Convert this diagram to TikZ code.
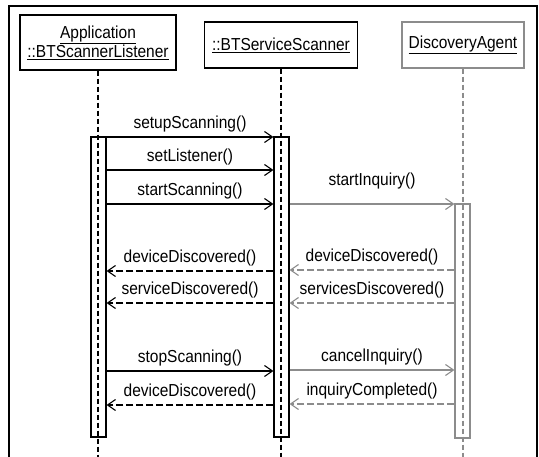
\documentclass[tikz,border=0pt]{standalone}
\usepackage{fontspec}
\usepackage{graphicx}
\setmainfont{Liberation Sans}
\usetikzlibrary{arrows.meta}
\definecolor{ln}{gray}{0.55}
\newcommand{\tallt}[1]{\scalebox{1}[1.12]{#1}}
\begin{document}
\begin{tikzpicture}[x=1pt,y=-1pt,
  obj/.style={draw, line width=1.2pt, inner sep=0pt, align=center, font=\fontsize{15.5}{20}\selectfont},
  actbar/.style={draw, line width=1.1pt, minimum width=15pt, inner sep=0pt},
  life/.style={line width=1.2pt, dash pattern=on 5pt off 3pt},
  call/.style={-{Straight Barb[length=8pt,width=11pt]}, line width=1.1pt},
  ret/.style={call, dash pattern=on 7pt off 3pt},
  lbl/.style={font=\fontsize{15.5}{18}\selectfont, inner sep=0pt, anchor=south, yshift=4pt}]
\useasboundingbox (0,0) rectangle (539,457);
% frame
\draw[line width=1.2pt] (9,457) -- (9,6) -- (537,6) -- (537,457);
% objects
\node[obj, minimum width=156pt, minimum height=55pt] (o1) at (98,42.5)
  {\tallt{\underline{Application}}\\[-1pt]\tallt{\underline{::BTScannerListener}}};
\node[obj, minimum width=153pt, minimum height=46pt] (o2) at (281,45)
  {\tallt{\underline{::BTServiceScanner}}};
\node[obj, draw=ln, minimum width=122pt, minimum height=46pt] (o3) at (463,45)
  {\tallt{\underline{DiscoveryAgent}}};
% lifelines
\coordinate (e1) at (98,457);
\coordinate (e2) at (281,457);
\coordinate (e3) at (463,457);
\draw[life] (o1.south) -- (e1);
\draw[life] (o2.south) -- (e2);
\draw[life, draw=ln] (o3.south) -- (e3);
% activation bars
\node[actbar, minimum height=300pt] (a1) at (98.5,287) {};
\node[actbar, minimum height=300pt] (a2) at (281.5,287) {};
\node[actbar, draw=ln, minimum height=234pt] (a3) at (462.5,321) {};
% messages left
\draw[call] (a1.east |- {0,137}) -- node[lbl]{\tallt{setupScanning()}} (a2.west |- {0,137});
\draw[call] (a1.east |- {0,170}) -- node[lbl]{\tallt{setListener()}} (a2.west |- {0,170});
\draw[call] (a1.east |- {0,204}) -- node[lbl]{\tallt{startScanning()}} (a2.west |- {0,204});
\draw[ret] (a2.west |- {0,271}) -- node[lbl]{\tallt{deviceDiscovered()}} (a1.east |- {0,271});
\draw[ret] (a2.west |- {0,303}) -- node[lbl]{\tallt{serviceDiscovered()}} (a1.east |- {0,303});
\draw[call] (a1.east |- {0,371}) -- node[lbl]{\tallt{stopScanning()}} (a2.west |- {0,371});
\draw[ret] (a2.west |- {0,405}) -- node[lbl]{\tallt{deviceDiscovered()}} (a1.east |- {0,405});
% messages right
\draw[call, draw=ln] (a2.east |- {0,204}) -- node[lbl, yshift=10pt]{\tallt{startInquiry()}} (a3.west |- {0,204});
\draw[ret, draw=ln] (a3.west |- {0,270}) -- node[lbl]{\tallt{deviceDiscovered()}} (a2.east |- {0,270});
\draw[ret, draw=ln] (a3.west |- {0,303}) -- node[lbl]{\tallt{servicesDiscovered()}} (a2.east |- {0,303});
\draw[call, draw=ln] (a2.east |- {0,370}) -- node[lbl]{\tallt{cancelInquiry()}} (a3.west |- {0,370});
\draw[ret, draw=ln] (a3.west |- {0,404}) -- node[lbl]{\tallt{inquiryCompleted()}} (a2.east |- {0,404});
\end{tikzpicture}
\end{document}
